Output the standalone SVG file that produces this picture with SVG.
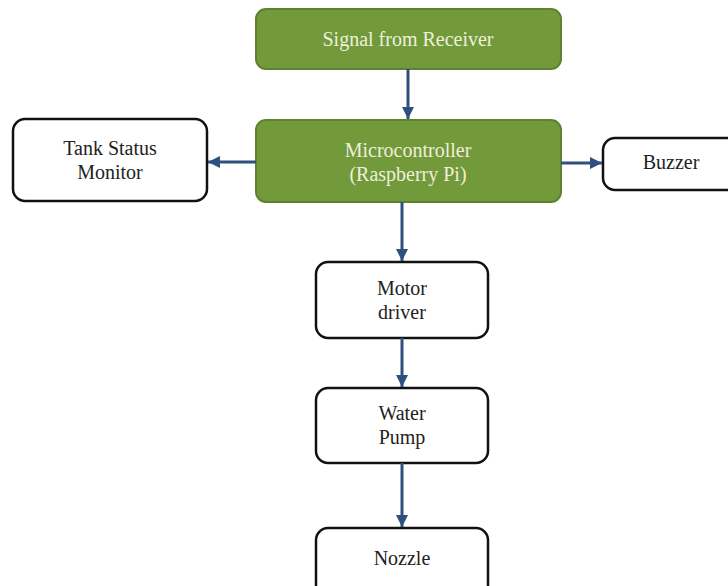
<svg xmlns="http://www.w3.org/2000/svg" width="728" height="586" viewBox="0 0 728 586">
<defs>
<marker id="ah" viewBox="0 0 10 10" refX="10" refY="5" markerWidth="4" markerHeight="4" orient="auto" markerUnits="strokeWidth">
<path d="M0,0 L10,5 L0,10 z" fill="#2e4f80"/>
</marker>
<style>
.g rect{fill:#72993a;stroke:#5f8230;stroke-width:2}
.w rect{fill:#ffffff;stroke:#111111;stroke-width:2.5}
text{font-family:"Liberation Serif","Times New Roman",serif;font-size:20px;text-anchor:middle}
.g text{fill:#eef0dc}
.w text{fill:#222222}
.c line{stroke:#2e4f80;stroke-width:3;marker-end:url(#ah)}
</style>
</defs>
<rect width="728" height="586" fill="#ffffff"/>
<g id="signal" class="g"><rect x="256" y="9" width="305" height="60" rx="10"/><text x="408" y="46">Signal from Receiver</text></g>
<g id="mcu" class="g"><rect x="256" y="120" width="305" height="82" rx="10"/><text x="408" y="157">Microcontroller</text><text x="408" y="181">(Raspberry Pi)</text></g>
<g id="tank" class="w"><rect x="13" y="119" width="194" height="82" rx="12"/><text x="110" y="155">Tank Status</text><text x="110" y="179">Monitor</text></g>
<g id="buzzer" class="w"><rect x="603" y="138" width="140" height="52" rx="12"/><text x="671" y="169">Buzzer</text></g>
<g id="motor" class="w"><rect x="316" y="262" width="172" height="76" rx="12"/><text x="402" y="295">Motor</text><text x="402" y="319">driver</text></g>
<g id="pump" class="w"><rect x="316" y="388" width="172" height="75" rx="12"/><text x="402" y="420">Water</text><text x="402" y="444">Pump</text></g>
<g id="nozzle" class="w"><rect x="316" y="528" width="172" height="70" rx="12"/><text x="402" y="565">Nozzle</text></g>
<g id="connectors" class="c">
<line x1="408" y1="69" x2="408" y2="119"/>
<line x1="256" y1="162" x2="208" y2="162"/>
<line x1="561" y1="163" x2="602" y2="163"/>
<line x1="402" y1="202" x2="402" y2="261"/>
<line x1="402" y1="338" x2="402" y2="387"/>
<line x1="402" y1="463" x2="402" y2="527"/>
</g>
</svg>
